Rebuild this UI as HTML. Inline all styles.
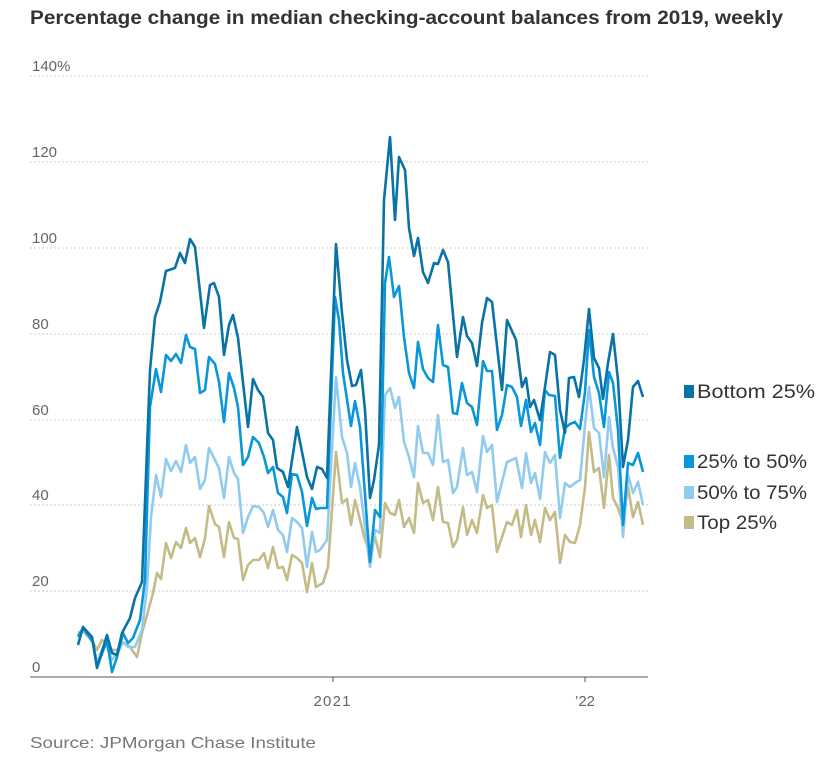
<!DOCTYPE html>
<html><head><meta charset="utf-8"><style>
body{margin:0;background:#fff;}
svg text{font-family:"Liberation Sans",sans-serif;}
</style></head><body>
<svg width="831" height="754" xmlns="http://www.w3.org/2000/svg">
<rect width="831" height="754" fill="#fff"/>
<text x="30" y="24" font-size="19" font-weight="bold" fill="#333" textLength="753" lengthAdjust="spacingAndGlyphs">Percentage change in median checking-account balances from 2019, weekly</text>
<g stroke="#ccc" stroke-width="1" stroke-dasharray="2,2">
<line x1="30" x2="648" y1="76" y2="76"/><line x1="30" x2="648" y1="162" y2="162"/><line x1="30" x2="648" y1="248" y2="248"/><line x1="30" x2="648" y1="334" y2="334"/><line x1="30" x2="648" y1="420" y2="420"/><line x1="30" x2="648" y1="505" y2="505"/><line x1="30" x2="648" y1="591" y2="591"/>
</g>
<g font-size="15" fill="#666">
<text x="32" y="71">140%</text><text x="32" y="157">120</text><text x="32" y="243">100</text><text x="32" y="329">80</text><text x="32" y="415">60</text><text x="32" y="500">40</text><text x="32" y="586">20</text><text x="32" y="672">0</text>
<text x="332" y="706" text-anchor="middle" textLength="37">2021</text><text x="585" y="706" text-anchor="middle">’22</text>
</g>
<line x1="30" x2="648" y1="677" y2="677" stroke="#555" stroke-width="1"/>
<line x1="333" x2="333" y1="677" y2="682" stroke="#555"/><line x1="585" x2="585" y1="677" y2="682" stroke="#555"/>
<g fill="none" stroke-width="2.6" stroke-linejoin="round">
<polyline stroke="#c4bb87" points="78,633 83,631 93,642 97,650 102,640 107,643 112,650 117,650 123,642 130,647 137,657 142,633 147,615 153,593 157,573 161,579 166,543 171,558 176,542 181,548 186,528 190,543 195,538 200,557 205,538 209,506 215,524 219,527 224,557 229,522 234,538 238,539 243,580 248,565 253,560 259,560 264,553 268,568 273,547 278,568 283,567 287,580 292,555 297,558 302,563 307,592 312,563 316,587 323,583 328,567 336,452 342,503 347,499 351,525 355,500 365,540 370,553 375,537 380,557 385,503 390,513 395,515 399,500 404,527 409,518 414,533 418,483 423,503 428,500 433,520 438,487 443,522 448,523 453,547 457,540 463,507 467,535 472,520 477,533 483,495 487,508 492,505 497,552 502,537 507,522 512,525 517,510 521,537 526,505 531,535 535,520 540,542 545,508 550,520 555,512 560,563 565,535 570,542 575,543 580,525 585,487 589,432 594,472 599,468 604,508 609,455 613,498 618,508 623,523 628,487 633,517 638,502 643,525"/>
<polyline stroke="#91cbee" points="78,635 83,629 93,643 97,663 105,642 112,660 118,652 123,642 128,647 135,647 142,630 147,587 151,517 156,475 161,497 166,459 171,471 176,461 181,472 186,445 190,463 195,457 200,489 205,480 209,448 215,460 219,468 224,498 229,457 234,473 238,479 243,533 248,517 253,506 259,507 264,513 268,527 273,510 278,530 283,535 287,552 292,518 297,522 302,528 307,567 312,532 316,552 320,550 327,540 336,377 342,437 347,453 351,487 355,463 360,487 370,567 375,530 380,533 385,395 390,388 395,408 399,397 404,442 409,457 414,477 418,426 423,453 428,453 433,465 438,415 443,462 448,460 453,493 457,487 463,448 467,475 472,472 477,492 483,436 487,452 492,445 497,502 502,482 507,462 516,458 522,488 526,453 531,483 535,473 540,499 545,452 550,463 555,455 560,518 565,483 570,487 575,483 580,480 585,425 589,387 594,428 599,433 604,477 609,417 613,448 618,467 623,537 628,475 633,493 638,482 643,505"/>
<polyline stroke="#0a97d9" points="78,637 83,628 93,642 97,667 107,640 112,672 117,657 123,633 128,643 133,638 140,620 145,580 150,407 156,369 161,392 166,355 171,361 176,354 181,363 186,335 190,347 195,349 200,393 205,390 209,357 215,364 219,382 224,422 229,373 234,388 238,407 243,465 248,457 253,437 259,443 264,457 268,473 273,467 278,493 283,497 287,513 292,474 297,475 302,492 307,526 312,498 316,509 320,508 327,508 335,297 339,320 343,373 351,426 355,401 360,427 370,562 375,510 380,517 385,283 389,257 394,297 399,286 404,337 409,373 414,388 418,342 423,369 428,378 433,382 438,325 443,365 448,367 453,413 457,414 462,383 467,403 472,407 477,425 483,361 487,371 492,371 497,430 502,415 507,385 512,387 517,397 521,426 526,400 531,432 535,423 540,445 545,390 549,395 555,396 560,458 565,428 570,424 575,422 580,429 585,392 589,330 594,377 599,393 604,427 609,372 613,383 618,430 623,525 628,463 633,465 638,453 643,472"/>
<polyline stroke="#0a73a6" points="78,645 83,627 92,637 97,668 107,635 112,653 117,655 122,633 130,618 135,598 142,582 150,370 155,317 160,302 166,271 175,268 180,253 185,263 190,239 195,247 204,328 210,285 214,283 219,297 224,355 229,325 233,315 238,338 248,427 253,379 258,390 263,397 268,433 273,440 277,468 283,472 288,487 297,427 307,477 312,489 317,467 322,469 327,478 336,244 342,313 347,360 352,386 356,385 361,370 365,410 370,498 374,480 379,445 384,200 390,137 395,220 399,157 405,170 409,228 414,256 418,238 423,272 428,283 434,263 438,264 443,250 448,262 457,357 463,317 467,336 472,343 477,366 482,323 487,298 492,302 502,390 507,320 516,340 522,387 526,378 530,407 534,400 540,420 545,387 550,352 555,355 560,410 565,433 569,378 574,377 579,397 584,360 589,309 594,358 599,368 603,399 608,363 613,334 618,380 623,467 628,440 633,387 638,381 643,397"/>
</g>
<g font-size="19" fill="#333">
<rect x="684" y="385" width="10" height="13" fill="#0a73a6"/><text x="697" y="398" textLength="118" lengthAdjust="spacingAndGlyphs">Bottom 25%</text>
<rect x="684" y="455" width="10" height="13" fill="#0a97d9"/><text x="697" y="468" textLength="110" lengthAdjust="spacingAndGlyphs">25% to 50%</text>
<rect x="684" y="486" width="10" height="13" fill="#91cbee"/><text x="697" y="499" textLength="110" lengthAdjust="spacingAndGlyphs">50% to 75%</text>
<rect x="684" y="516" width="10" height="13" fill="#c4bb87"/><text x="697" y="529" textLength="80" lengthAdjust="spacingAndGlyphs">Top 25%</text>
</g>
<text x="30" y="748" font-size="16" fill="#777" textLength="286" lengthAdjust="spacingAndGlyphs">Source: JPMorgan Chase Institute</text>
</svg>
</body></html>
